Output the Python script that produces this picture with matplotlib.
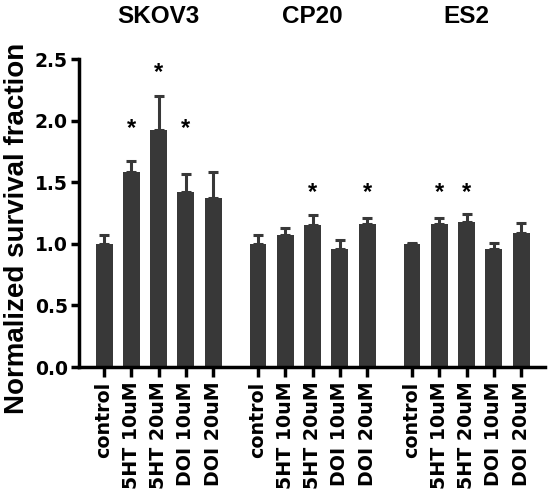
import matplotlib
matplotlib.use("Agg")
import matplotlib.pyplot as plt
import matplotlib.transforms as mtransforms
import numpy as np

plt.rcParams['font.family'] = ['Liberation Sans', 'DejaVu Sans']
plt.rcParams['font.weight'] = 'bold'

groups = ["SKOV3", "CP20", "ES2"]
treatments = ["control", "5HT 10uM", "5HT 20uM", "DOI 10uM", "DOI 20uM"]
means = {
    "SKOV3": [1.00, 1.58, 1.92, 1.42, 1.37],
    "CP20":  [1.00, 1.07, 1.15, 0.96, 1.16],
    "ES2":   [1.00, 1.16, 1.18, 0.96, 1.09],
}
errs = {
    "SKOV3": [0.07, 0.09, 0.28, 0.15, 0.21],
    "CP20":  [0.07, 0.06, 0.08, 0.07, 0.05],
    "ES2":   [0.01, 0.05, 0.06, 0.05, 0.08],
}
# height of significance asterisk (None = not significant)
star_y = {
    "SKOV3": [None, 1.94, 2.39, 1.94, None],
    "CP20":  [None, None, 1.42, None, 1.42],
    "ES2":   [None, 1.42, 1.42, None, None],
}

bar_color = "#383838"
group_step = 5.65

fig = plt.figure(figsize=(5.5, 4.96), dpi=100)
ax = fig.add_axes([0.1436, 0.26, 0.8474, 0.621])
title_trans = mtransforms.blended_transform_factory(ax.transData, fig.transFigure)

positions, labels = [], []
for g, name in enumerate(groups):
    x = np.arange(len(treatments)) + g * group_step
    m = np.array(means[name])
    e = np.array(errs[name])
    ax.bar(x, m, width=0.62, color=bar_color, zorder=2)
    ax.errorbar(x, m, yerr=[np.zeros_like(e), e], fmt='none', ecolor=bar_color,
                elinewidth=2.2, capsize=3.8, capthick=2.2, zorder=1)
    for xi, sy in zip(x, star_y[name]):
        if sy is not None:
            ax.text(xi, sy, "*", ha='center', va='center',
                    fontsize=17, fontweight='bold', color='black')
    ax.text(x.mean(), 1 - 23 / 496, name, transform=title_trans,
            ha='center', va='baseline', fontsize=17.5, fontweight='bold')
    positions.extend(x)
    labels.extend(treatments)

ax.set_xlim(-0.92, positions[-1] + 0.88)
ax.set_ylim(0, 2.5)
ax.set_xticks(positions)
ax.set_xticklabels(labels, rotation=90, fontsize=13.7, fontweight='bold',
                   family=['DejaVu Sans'])
ax.set_yticks([0, 0.5, 1.0, 1.5, 2.0, 2.5])
ax.set_yticklabels(["0.0", "0.5", "1.0", "1.5", "2.0", "2.5"], fontsize=13.5,
                   fontweight='bold', family=['DejaVu Sans'])
fig.text(17 / 550, 1 - 228 / 496, "Normalized survival fraction", rotation=90,
         ha='center', va='center', fontsize=20, fontweight='bold')

for side in ['top', 'right']:
    ax.spines[side].set_visible(False)
for side in ['left', 'bottom']:
    ax.spines[side].set_linewidth(2.5)
ax.tick_params(axis='x', width=2.5, length=7.5, color='black', pad=3)
ax.tick_params(axis='y', width=2.5, length=6, color='black', pad=2)

fig.savefig("out.png", dpi=100)
